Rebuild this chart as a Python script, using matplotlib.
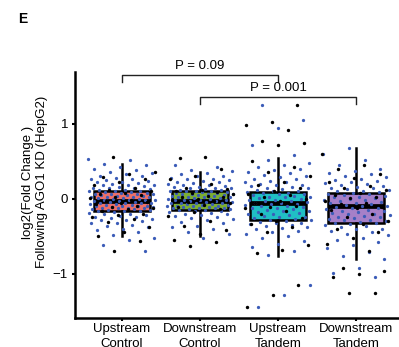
import numpy as np
import matplotlib
matplotlib.use("Agg")
import matplotlib.pyplot as plt

plt.rcParams['font.family'] = ['Liberation Sans', 'DejaVu Sans']

# --------------------------
# Data
# --------------------------
groups = ["Upstream\nControl", "Downstream\nControl", "Upstream\nTandem", "Downstream\nTandem"]
box_colors = ["#EE7068", "#7DAF32", "#20BFC5", "#A680C8"]

q1 = [-0.16, -0.15, -0.28, -0.32]
med = [-0.03, -0.03, -0.06, -0.10]
q3 = [0.10, 0.11, 0.09, 0.08]
whis_lo = [-0.50, -0.50, -0.77, -0.81]
whis_hi = [0.47, 0.36, 0.55, 0.68]

g1_blue = [0.53, 0.52, 0.47, 0.45, 0.42, 0.40, 0.38, 0.36, 0.34, 0.33, 0.31, 0.30, 0.28,
           0.27, 0.26, 0.25, 0.24, 0.23, 0.22, 0.21, 0.20, 0.19, 0.18, 0.18, 0.17, 0.16,
           0.15, 0.15, 0.14, 0.13, 0.12, 0.12, 0.11, 0.10, 0.10, 0.09, 0.09, 0.08, 0.08,
           0.07, 0.07, 0.06, 0.06, 0.05, 0.05, 0.04, 0.04, 0.03, 0.03, 0.02, 0.02, 0.01,
           0.01, 0.00, 0.00, -0.01, -0.01, -0.02, -0.02, -0.03, -0.03, -0.04, -0.04, -0.05,
           -0.05, -0.06, -0.06, -0.07, -0.07, -0.08, -0.08, -0.09, -0.09, -0.10, -0.10,
           -0.11, -0.11, -0.12, -0.12, -0.13, -0.13, -0.14, -0.14, -0.15, -0.15, -0.16,
           -0.16, -0.17, -0.18, -0.19, -0.20, -0.21, -0.22, -0.23, -0.24, -0.25, -0.26,
           -0.27, -0.28, -0.29, -0.30, -0.32, -0.33, -0.35, -0.36, -0.38, -0.40, -0.42,
           -0.45, -0.48, -0.52, -0.55, -0.62, -0.70]
g1_black = [0.56, 0.36, 0.33, 0.29, 0.27, 0.22, 0.18, 0.15, 0.12, 0.10, 0.08, 0.06, 0.05,
            0.03, 0.01, -0.01, -0.03, -0.04, -0.05, -0.07, -0.09, -0.11, -0.12, -0.14,
            -0.17, -0.20, -0.22, -0.24, -0.27, -0.31, -0.38, -0.44, -0.50, -0.57, -0.70]

g2_blue = [0.45, 0.42, 0.38, 0.37, 0.35, 0.33, 0.31, 0.30, 0.28, 0.27, 0.26, 0.25, 0.24,
           0.23, 0.22, 0.21, 0.20, 0.19, 0.18, 0.17, 0.16, 0.16, 0.15, 0.14, 0.14, 0.13,
           0.12, 0.12, 0.11, 0.11, 0.10, 0.10, 0.09, 0.09, 0.08, 0.08, 0.07, 0.07, 0.06,
           0.06, 0.05, 0.05, 0.04, 0.04, 0.03, 0.03, 0.02, 0.02, 0.01, 0.01, 0.00, 0.00,
           -0.01, -0.01, -0.02, -0.02, -0.03, -0.03, -0.04, -0.04, -0.05, -0.05, -0.06,
           -0.06, -0.07, -0.07, -0.08, -0.08, -0.09, -0.09, -0.10, -0.10, -0.11, -0.11,
           -0.12, -0.12, -0.13, -0.13, -0.14, -0.14, -0.15, -0.15, -0.16, -0.17, -0.18,
           -0.19, -0.20, -0.21, -0.22, -0.23, -0.24, -0.26, -0.27, -0.29, -0.31, -0.33,
           -0.36, -0.38, -0.41, -0.44, -0.47, -0.53]
g2_black = [0.56, 0.55, 0.40, 0.31, 0.26, 0.20, 0.15, 0.13, 0.12, 0.10, 0.09, 0.08, 0.06,
            0.04, 0.03, 0.02, 0.00, -0.02, -0.03, -0.04, -0.06, -0.08, -0.11, -0.14,
            -0.18, -0.23, -0.30, -0.36, -0.42, -0.47, -0.55, -0.58, -0.63]

g3_blue = [1.25, 1.05, 0.95, 0.72, 0.58, 0.52, 0.48, 0.45, 0.42, 0.40, 0.38, 0.36, 0.34,
           0.32, 0.30, 0.29, 0.27, 0.26, 0.24, 0.23, 0.22, 0.20, 0.19, 0.18, 0.17, 0.16,
           0.15, 0.14, 0.13, 0.12, 0.11, 0.10, 0.09, 0.08, 0.08, 0.07, 0.06, 0.05, 0.04,
           0.03, 0.03, 0.02, 0.01, 0.00, -0.01, -0.02, -0.03, -0.03, -0.04, -0.05, -0.06,
           -0.07, -0.07, -0.08, -0.09, -0.10, -0.11, -0.12, -0.13, -0.14, -0.15, -0.16,
           -0.17, -0.18, -0.19, -0.20, -0.21, -0.22, -0.23, -0.24, -0.25, -0.26, -0.27,
           -0.28, -0.29, -0.30, -0.31, -0.32, -0.33, -0.34, -0.35, -0.36, -0.38, -0.39,
           -0.41, -0.43, -0.45, -0.47, -0.50, -0.53, -0.56, -0.60, -0.65, -0.70, -0.75,
           -1.15, -1.28, -1.44]
g3_black = [1.25, 1.02, 0.98, 0.92, 0.77, 0.75, 0.72, 0.50, 0.43, 0.36, 0.30, 0.22, 0.18,
            0.15, 0.10, 0.07, 0.05, 0.02, 0.00, -0.03, -0.06, -0.09, -0.11, -0.13, -0.17,
            -0.21, -0.26, -0.30, -0.34, -0.38, -0.44, -0.62, -0.68, -0.73, -1.15, -1.28,
            -1.44]

g4_blue = [0.68, 0.60, 0.52, 0.45, 0.40, 0.37, 0.35, 0.33, 0.31, 0.29, 0.27, 0.25, 0.24,
           0.22, 0.21, 0.20, 0.18, 0.17, 0.16, 0.15, 0.14, 0.13, 0.12, 0.11, 0.10, 0.09,
           0.08, 0.07, 0.06, 0.05, 0.04, 0.03, 0.02, 0.01, 0.00, -0.01, -0.02, -0.03,
           -0.04, -0.05, -0.06, -0.07, -0.08, -0.09, -0.10, -0.11, -0.12, -0.13, -0.14,
           -0.15, -0.16, -0.17, -0.18, -0.19, -0.20, -0.21, -0.22, -0.23, -0.24, -0.25,
           -0.26, -0.27, -0.28, -0.29, -0.30, -0.31, -0.32, -0.33, -0.34, -0.35, -0.37,
           -0.38, -0.40, -0.41, -0.43, -0.45, -0.47, -0.49, -0.52, -0.55, -0.58, -0.62,
           -0.66, -0.71, -0.76, -0.81, -0.92, -0.99, -1.05]
g4_black = [0.60, 0.45, 0.40, 0.33, 0.28, 0.22, 0.17, 0.14, 0.12, 0.08, 0.05, 0.03, 0.01,
            -0.03, -0.05, -0.07, -0.11, -0.13, -0.15, -0.20, -0.25, -0.30, -0.34, -0.40,
            -0.45, -0.52, -0.60, -0.70, -0.92, -0.96, -1.00, -1.05, -1.26, -1.26]

blue_pts = [g1_blue, g2_blue, g3_blue, g4_blue]
black_pts = [g1_black, g2_black, g3_black, g4_black]

# comparisons: (group a, group b, label)
comparisons = [(1, 3, "P = 0.09"), (2, 4, "P = 0.001")]
bracket_y = [1.65, 1.36]

# --------------------------
# Plot
# --------------------------
fig = plt.figure(figsize=(3.99, 3.47), dpi=100)
ax = fig.add_axes([0.188, 0.084, 0.812, 0.708])

stats = []
for i in range(len(groups)):
    stats.append(dict(med=med[i], q1=q1[i], q3=q3[i],
                      whislo=whis_lo[i], whishi=whis_hi[i], fliers=[]))

pos = np.arange(1, len(groups) + 1)
bp = ax.bxp(stats, positions=pos, widths=0.72, patch_artist=True, showcaps=False,
            boxprops=dict(linewidth=1.8, edgecolor="black"),
            whiskerprops=dict(linewidth=1.8, color="black"),
            medianprops=dict(linewidth=3.4, color="black"), zorder=2)
for patch, c in zip(bp["boxes"], box_colors):
    patch.set_facecolor(c)


def jitter(n, phase):
    # spread points evenly across the box width
    return ((np.arange(n) * 0.6180339887 + phase) % 1.0 - 0.5) * 0.86


for i, p in enumerate(pos):
    yb = np.array(blue_pts[i])
    ax.scatter(p + jitter(len(yb), 0.13 * i), yb, s=5.5, color="#3B5CB8",
               linewidths=0, zorder=3)
    yk = np.array(black_pts[i])
    ax.scatter(p + jitter(len(yk), 0.37 + 0.21 * i), yk, s=6, color="black",
               linewidths=0, zorder=4)

# significance brackets
for (a, b, lab), yb in zip(comparisons, bracket_y):
    ax.plot([a, a, b, b], [yb - 0.09, yb, yb, yb - 0.09], color="#222222",
            linewidth=1.0, clip_on=False)
    ax.text((a + b) / 2, yb + 0.04, lab, ha="center", va="bottom",
            fontsize=9.5, clip_on=False)

ax.set_xlim(0.4, 4.55)
ax.set_ylim(-1.59, 1.69)
ax.set_yticks([-1, 0, 1])
ax.set_yticklabels(["\u22121", "0", "1"])
ax.set_xticks(pos)
ax.set_xticklabels(groups, fontsize=9.5, linespacing=1.3)
ax.tick_params(axis="y", labelsize=9.5, length=2, width=1.5, pad=3)
ax.tick_params(axis="x", length=2, width=1.5, pad=2)

for s in ["top", "right"]:
    ax.spines[s].set_visible(False)
for s in ["left", "bottom"]:
    ax.spines[s].set_linewidth(1.8)

fig.text(0.088, 0.475, "log2(Fold Change )\nFollowing AGO1 KD (HepG2)", rotation=90,
         ha="center", va="center", fontsize=9.5, multialignment="center",
         linespacing=1.2)
fig.text(0.045, 0.965, "E", fontsize=10, fontweight="bold", ha="left", va="top")

fig.savefig("out.png", dpi=100)
